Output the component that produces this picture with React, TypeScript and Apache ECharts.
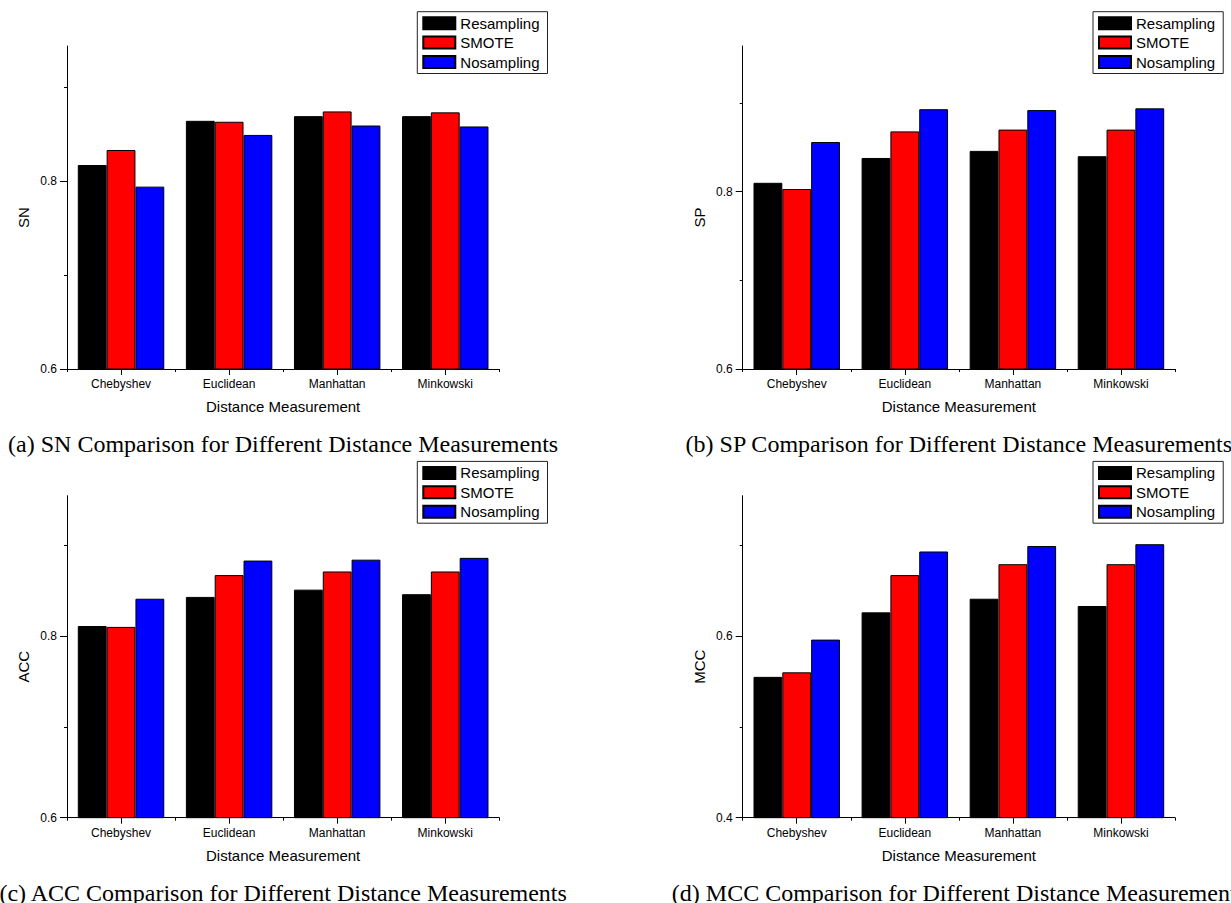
import React, { useEffect, useRef } from 'react';
import * as echarts from 'echarts';

const categories = ['Chebyshev', 'Euclidean', 'Manhattan', 'Minkowski'];
const seriesNames = ['Resampling', 'SMOTE', 'Nosampling'];
const seriesColors = ['#000000', '#ff0000', '#0000ff'];

const snResampling = [0.817, 0.864, 0.869, 0.869];
const snSmote = [0.833, 0.863, 0.874, 0.873];
const snNosampling = [0.794, 0.849, 0.859, 0.858];

const spResampling = [0.81, 0.838, 0.846, 0.84];
const spSmote = [0.803, 0.868, 0.87, 0.87];
const spNosampling = [0.856, 0.893, 0.892, 0.894];

const accResampling = [0.811, 0.843, 0.851, 0.846];
const accSmote = [0.81, 0.867, 0.871, 0.871];
const accNosampling = [0.841, 0.883, 0.884, 0.886];

const mccResampling = [0.555, 0.626, 0.641, 0.633];
const mccSmote = [0.56, 0.667, 0.679, 0.679];
const mccNosampling = [0.596, 0.693, 0.699, 0.701];

const snTicks = [0.6, 0.8];
const snMinor = [0.7, 0.9];
const spTicks = [0.6, 0.8];
const spMinor = [0.7, 0.9];
const accTicks = [0.6, 0.8];
const accMinor = [0.7, 0.9];
const mccTicks = [0.4, 0.6];
const mccMinor = [0.5, 0.7];

const xTitle = 'Distance Measurement';

const FONT = '"Liberation Sans", Arial, sans-serif';
const SERIF = '"Liberation Serif", "Times New Roman", serif';

const PLOT_W = 432.3;

const panels = [
  {
    name: 'SN',
    caption: '(a) SN Comparison for Different Distance Measurements',
    values: [snResampling, snSmote, snNosampling],
    min: 0.6, max: 0.9436, major: snTicks, minor: snMinor,
    left: 67, top: 46, height: 323, captionY: 444,
  },
  {
    name: 'SP',
    caption: '(b) SP Comparison for Different Distance Measurements',
    values: [spResampling, spSmote, spNosampling],
    min: 0.6, max: 0.9643, major: spTicks, minor: spMinor,
    left: 742.7, top: 46, height: 323, captionY: 444,
  },
  {
    name: 'ACC',
    caption: '(c) ACC Comparison for Different Distance Measurements',
    values: [accResampling, accSmote, accNosampling],
    min: 0.6, max: 0.9544, major: accTicks, minor: accMinor,
    left: 67, top: 495.7, height: 322, captionY: 893,
  },
  {
    name: 'MCC',
    caption: '(d) MCC Comparison for Different Distance Measurements',
    values: [mccResampling, mccSmote, mccNosampling],
    min: 0.4, max: 0.7544, major: mccTicks, minor: mccMinor,
    left: 742.7, top: 495.7, height: 322, captionY: 893,
  },
];

export default function App() {
  const ref = useRef<HTMLDivElement>(null);

  useEffect(() => {
    document.body.style.margin = '0';
    const chart = echarts.init(ref.current!, null, { renderer: 'svg' });

    const grids: any[] = [];
    const xAxes: any[] = [];
    const yAxes: any[] = [];
    const series: any[] = [];
    const legends: any[] = [];
    const graphics: any[] = [];

    panels.forEach((p, i) => {
      const rect = { left: p.left, top: p.top, width: PLOT_W, height: p.height };
      grids.push({ ...rect });
      grids.push({ ...rect });
      const gi = 2 * i;
      const go = 2 * i + 1;

      xAxes.push({
        type: 'category',
        gridIndex: gi,
        data: categories,
        boundaryGap: true,
        axisLine: { show: true, lineStyle: { color: '#000', width: 1 } },
        axisTick: { show: true, alignWithLabel: true, interval: 0, length: 6, lineStyle: { color: '#000' } },
        axisLabel: { fontSize: 12, color: '#000', fontFamily: FONT, margin: 9, interval: 0 },
        splitLine: { show: false },
        name: xTitle,
        nameLocation: 'middle',
        nameGap: 30,
        nameTextStyle: { fontSize: 15, color: '#000', fontFamily: FONT },
      });
      xAxes.push({
        type: 'category',
        gridIndex: go,
        data: categories,
        boundaryGap: true,
        axisLine: { show: false },
        axisTick: { show: true, interval: 0, length: 3, lineStyle: { color: '#000' } },
        axisLabel: { show: false },
        splitLine: { show: false },
      });

      yAxes.push({
        type: 'value',
        gridIndex: gi,
        min: p.min,
        max: p.max,
        axisLine: { show: true, lineStyle: { color: '#000', width: 1 } },
        axisTick: { show: true, customValues: p.major, length: 7, lineStyle: { color: '#000' } },
        axisLabel: {
          show: true,
          customValues: p.major,
          fontSize: 12,
          color: '#000',
          fontFamily: FONT,
          margin: 10,
          formatter: (v: number) => v.toFixed(1),
        },
        splitLine: { show: false },
        name: p.name,
        nameLocation: 'middle',
        nameGap: 36,
        nameTextStyle: { fontSize: 15, color: '#000', fontFamily: FONT, padding: [0, 20, 0, 0] },
      });
      yAxes.push({
        type: 'value',
        gridIndex: go,
        min: p.min,
        max: p.max,
        axisLine: { show: false },
        axisTick: { show: true, customValues: p.minor, length: 3, lineStyle: { color: '#000' } },
        axisLabel: { show: false },
        splitLine: { show: false },
      });

      p.values.forEach((vals, s) => {
        series.push({
          type: 'bar',
          name: seriesNames[s],
          xAxisIndex: gi,
          yAxisIndex: gi,
          data: vals,
          barGap: '0%',
          barCategoryGap: '20%',
          itemStyle: { color: seriesColors[s], borderColor: '#000', borderWidth: 1 },
        });
      });

      legends.push({
        orient: 'vertical',
        left: p.left + 350.3,
        top: p.top - 34.3,
        icon: 'rect',
        itemWidth: 32,
        itemHeight: 12,
        itemGap: 4.4,
        padding: [4, 8, 4, 5],
        borderColor: '#222',
        borderWidth: 1,
        backgroundColor: '#fff',
        selectedMode: false,
        textStyle: { fontSize: 15, fontFamily: FONT, color: '#000', lineHeight: 14 },
        data: seriesNames,
      });

      graphics.push({
        type: 'text',
        x: p.left + PLOT_W / 2,
        y: p.captionY,
        style: {
          text: p.caption,
          font: `24px ${SERIF}`,
          fill: '#000',
          textAlign: 'center',
          textVerticalAlign: 'middle',
        },
      });
    });

    chart.setOption({
      animation: false,
      backgroundColor: '#fff',
      grid: grids,
      xAxis: xAxes,
      yAxis: yAxes,
      series,
      legend: legends,
      graphic: graphics,
    });

    return () => {
      chart.dispose();
    };
  }, []);

  return <div ref={ref} style={{ width: 1231, height: 903 }} />;
}
